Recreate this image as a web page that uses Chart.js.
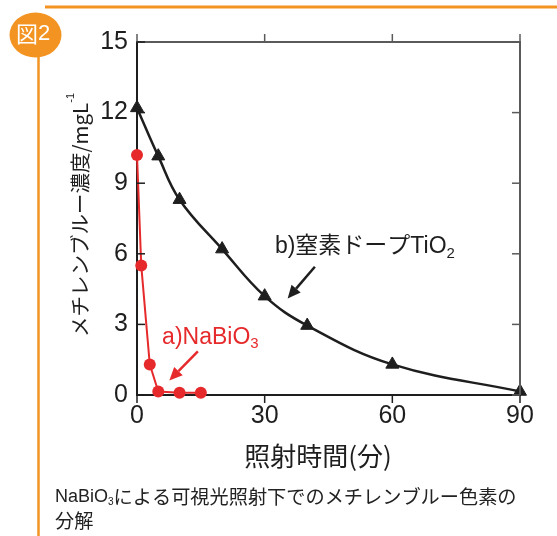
<!DOCTYPE html>
<html><head><meta charset="utf-8">
<script src="https://cdn.jsdelivr.net/npm/chart.js@4.4.1/dist/chart.umd.min.js"></script>
<style>html,body{margin:0;padding:0;background:#fff;overflow:hidden}canvas{display:block}</style>
</head><body>
<canvas id="c" width="557" height="536"></canvas>
<script>
// Irradiation time (min) and methylene blue concentration (mg/L)
const timeNaBiO3 = [0, 1, 3, 5, 10, 15];
const concNaBiO3 = [10.2, 5.5, 1.3, 0.15, 0.1, 0.1];
const timeTiO2 = [0, 5, 10, 20, 30, 40, 60, 90];
const concTiO2 = [12.2, 10.15, 8.3, 6.2, 4.2, 2.95, 1.3, 0.15];
const xTicks = [0, 30, 60, 90];
const yTicks = [0, 3, 6, 9, 12, 15];

const RED = '#e62a2c';
const INK = '#1e1e1e';
const ORANGE = '#f39422';
const LATIN = '"Liberation Sans", Arial, sans-serif';
const CJK = '"Noto Sans CJK JP", "Liberation Sans", sans-serif';
const MIXED = '"Liberation Sans", "Noto Sans CJK JP", sans-serif';

const toPoints = (xs, ys) => xs.map((x, i) => ({x, y: ys[i]}));

// callouts, positioned in data units
const callouts = [
  {color: RED, text: 'a)NaBiO', sub: '3', at: [5.9, 2.45], from: [14.3, 1.85], to: [7.6, 0.62]},
  {color: INK, text: 'b)窒素ドープTiO', sub: '2', at: [32.4, 6.29], from: [41.8, 5.45], to: [35.4, 4.1]}
];

function runs(ctx, x, y, parts) {
  let cx = x;
  for (const p of parts) {
    ctx.font = p.font;
    ctx.fillText(p.t, cx, y + (p.dy || 0));
    cx += ctx.measureText(p.t).width;
  }
  return cx;
}

function arrow(ctx, x1, y1, x2, y2, color) {
  const a = Math.atan2(y2 - y1, x2 - x1);
  const L = 13, W = 6;
  const bx = x2 - Math.cos(a) * L, by = y2 - Math.sin(a) * L;
  ctx.strokeStyle = color; ctx.fillStyle = color; ctx.lineWidth = 2.5;
  ctx.beginPath(); ctx.moveTo(x1, y1); ctx.lineTo(bx, by); ctx.stroke();
  ctx.beginPath();
  ctx.moveTo(x2, y2);
  ctx.lineTo(bx + Math.sin(a) * W, by - Math.cos(a) * W);
  ctx.lineTo(bx - Math.sin(a) * W, by + Math.cos(a) * W);
  ctx.closePath(); ctx.fill();
}

const decor = {
  id: 'decor',
  afterDraw(chart) {
    const {ctx, chartArea: ca, scales: {x, y}} = chart;
    ctx.save();
    // frame: top and right
    ctx.strokeStyle = '#5a5a5a'; ctx.lineWidth = 2;
    ctx.beginPath();
    ctx.moveTo(ca.left, ca.top); ctx.lineTo(ca.right, ca.top); ctx.lineTo(ca.right, ca.bottom);
    ctx.stroke();
    // tick marks
    const T = 8;
    ctx.lineWidth = 1.5;
    for (const v of xTicks) {
      const px = x.getPixelForValue(v);
      ctx.strokeStyle = '#5a5a5a';
      ctx.beginPath(); ctx.moveTo(px, ca.top); ctx.lineTo(px, ca.top - T); ctx.stroke();
      ctx.strokeStyle = INK;
      ctx.beginPath(); ctx.moveTo(px, ca.bottom); ctx.lineTo(px, ca.bottom + T); ctx.stroke();
    }
    for (const v of yTicks) {
      const py = y.getPixelForValue(v);
      ctx.strokeStyle = INK;
      ctx.beginPath(); ctx.moveTo(ca.left, py); ctx.lineTo(ca.left + T, py); ctx.stroke();
      ctx.strokeStyle = '#5a5a5a';
      ctx.beginPath(); ctx.moveTo(ca.right, py); ctx.lineTo(ca.right - T, py); ctx.stroke();
    }
    // callouts
    ctx.textBaseline = 'middle'; ctx.textAlign = 'left';
    for (const c of callouts) {
      arrow(ctx, x.getPixelForValue(c.from[0]), y.getPixelForValue(c.from[1]),
        x.getPixelForValue(c.to[0]), y.getPixelForValue(c.to[1]), c.color);
      ctx.fillStyle = c.color;
      runs(ctx, x.getPixelForValue(c.at[0]), y.getPixelForValue(c.at[1]), [
        {t: c.text, font: '23px ' + MIXED},
        {t: c.sub, font: '15px ' + LATIN, dy: 7}
      ]);
    }
    // axis titles
    ctx.fillStyle = INK;
    ctx.textAlign = 'center';
    ctx.font = '26px ' + CJK;
    ctx.fillText('照射時間(分)', 318, 456);
    ctx.save();
    ctx.translate(80, 215);
    ctx.rotate(-Math.PI / 2);
    ctx.textAlign = 'left';
    const main = 'メチレンブルー濃度/mgL';
    ctx.font = '20.5px ' + CJK;
    const w = ctx.measureText(main).width;
    ctx.font = '11px ' + LATIN;
    const ws = ctx.measureText('-1').width;
    runs(ctx, -(w + ws) / 2, 0, [
      {t: main, font: '20.5px ' + CJK},
      {t: '-1', font: '11px ' + LATIN, dy: -9}
    ]);
    ctx.restore();
    // caption
    ctx.fillStyle = '#222';
    ctx.textAlign = 'left';
    runs(ctx, 55, 497, [
      {t: 'NaBiO', font: '18px ' + LATIN},
      {t: '3', font: '10px ' + LATIN, dy: 5},
      {t: 'による可視光照射下でのメチレンブルー色素の', font: '19.2px ' + CJK}
    ]);
    runs(ctx, 55, 521, [{t: '分解', font: '19.2px ' + CJK}]);
    // figure badge and rules
    ctx.strokeStyle = ORANGE; ctx.lineWidth = 3;
    ctx.beginPath(); ctx.moveTo(45, 7); ctx.lineTo(557, 7); ctx.stroke();
    ctx.lineWidth = 2.5;
    ctx.beginPath(); ctx.moveTo(38.5, 40); ctx.lineTo(38.5, 536); ctx.stroke();
    ctx.fillStyle = ORANGE;
    ctx.beginPath(); ctx.ellipse(35.5, 35, 26, 22.5, 0, 0, Math.PI * 2); ctx.fill();
    ctx.fillStyle = '#fff';
    ctx.textAlign = 'left';
    runs(ctx, 16, 33.5, [
      {t: '図', font: '22px ' + CJK},
      {t: '2', font: '22px ' + LATIN}
    ]);
    ctx.restore();
  }
};

new Chart(document.getElementById('c'), {
  type: 'scatter',
  data: {
    datasets: [
      {
        data: toPoints(timeTiO2, concTiO2),
        showLine: true,
        tension: 0.4,
        borderColor: INK, borderWidth: 2.5,
        pointStyle: 'triangle', pointRadius: 7.5,
        pointBackgroundColor: INK, pointBorderColor: INK, pointBorderWidth: 1
      },
      {
        data: toPoints(timeNaBiO3, concNaBiO3),
        showLine: true,
        borderColor: RED, borderWidth: 2,
        pointStyle: 'circle', pointRadius: 6,
        pointBackgroundColor: RED, pointBorderColor: RED, pointBorderWidth: 0
      }
    ]
  },
  options: {
    responsive: false,
    animation: false,
    clip: false,
    layout: {padding: {left: 0, top: 42, right: 37, bottom: 0}},
    plugins: {legend: {display: false}, tooltip: {enabled: false}},
    scales: {
      x: {
        type: 'linear', min: 0, max: 90,
        afterFit: s => { s.height = 141; },
        afterBuildTicks: s => { s.ticks = xTicks.map(v => ({value: v})); },
        grid: {display: false, drawTicks: false},
        border: {display: true, color: INK, width: 2},
        ticks: {padding: 6, color: INK, font: {family: LATIN, size: 25}}
      },
      y: {
        type: 'linear', min: 0, max: 15,
        afterFit: s => { s.width = 137; },
        afterBuildTicks: s => { s.ticks = yTicks.map(v => ({value: v})); },
        grid: {display: false, drawTicks: false},
        border: {display: true, color: INK, width: 2},
        ticks: {padding: 9, color: INK, font: {family: LATIN, size: 25}}
      }
    }
  },
  plugins: [decor]
});
</script>
</body></html>
